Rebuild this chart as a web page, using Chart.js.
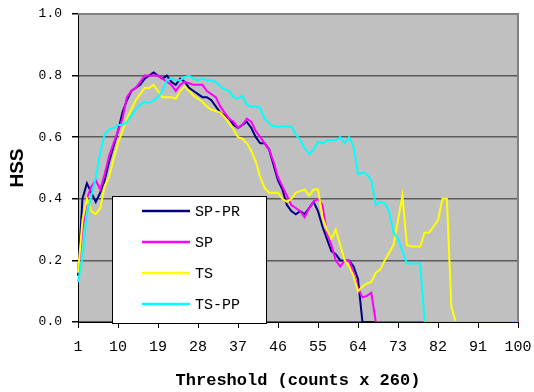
<!DOCTYPE html>
<html>
<head>
<meta charset="utf-8">
<script src="https://cdn.jsdelivr.net/npm/chart.js@4.4.1/dist/chart.umd.min.js"></script>
<style>
  html, body { margin: 0; padding: 0; background: #fff; }
</style>
</head>
<body>
<canvas id="hssChart" width="534" height="392"></canvas>
<script>
// categories and ticks
const thresholds = Array.from({ length: 100 }, (_, i) => i + 1);
const xTickLabels = [1, 10, 19, 28, 37, 46, 55, 64, 73, 82, 91, 100];
const yTickLabels = ['0.0', '0.2', '0.4', '0.6', '0.8', '1.0'];
const seriesNames = ['SP-PR', 'SP', 'TS', 'TS-PP'];
const seriesColors = ['#000080', '#ff00ff', '#ffff00', '#00ffff'];

// HSS values, one per threshold
const spPr = [
  0.15, 0.40, 0.45, 0.42, 0.39, 0.42, 0.46, 0.52, 0.57, 0.62,
  0.68, 0.72, 0.75, 0.76, 0.77, 0.79, 0.80, 0.81, 0.80, 0.79,
  0.80, 0.78, 0.77, 0.79, 0.78, 0.76, 0.75, 0.74, 0.73, 0.73,
  0.72, 0.70, 0.68, 0.67, 0.66, 0.64, 0.63, 0.64, 0.65, 0.63,
  0.60, 0.58, 0.58, 0.56, 0.51, 0.46, 0.43, 0.38, 0.36, 0.35,
  0.36, 0.35, 0.37, 0.39, 0.36, 0.31, 0.27, 0.23, 0.22, 0.20,
  0.20, 0.20, 0.18, 0.14, 0, 0, 0, 0, 0, 0,
  0, 0, 0, 0, 0, 0, 0, 0, 0, 0,
  0, 0, 0, 0, 0, 0, 0, 0, 0, 0,
  0, 0, 0, 0, 0, 0, 0, 0, 0, 0
];
const sp = [
  0.16, 0.30, 0.40, 0.44, 0.46, 0.43, 0.48, 0.54, 0.58, 0.62,
  0.66, 0.73, 0.75, 0.76, 0.78, 0.80, 0.80, 0.80, 0.80, 0.79,
  0.78, 0.77, 0.75, 0.77, 0.78, 0.775, 0.77, 0.77, 0.77, 0.75,
  0.74, 0.73, 0.70, 0.68, 0.66, 0.65, 0.63, 0.64, 0.66, 0.65,
  0.62, 0.60, 0.58, 0.56, 0.52, 0.47, 0.44, 0.41, 0.38, 0.37,
  0.36, 0.34, 0.37, 0.39, 0.40, 0.38, 0.29, 0.25, 0.20, 0.18,
  0.20, 0.20, 0.16, 0.11, 0.08, 0.085, 0.095, 0, 0, 0,
  0, 0, 0, 0, 0, 0, 0, 0, 0, 0,
  0, 0, 0, 0, 0, 0, 0, 0, 0, 0,
  0, 0, 0, 0, 0, 0, 0, 0, 0, 0
];
const ts = [
  0.16, 0.33, 0.40, 0.36, 0.35, 0.37, 0.44, 0.47, 0.53, 0.58,
  0.62, 0.66, 0.69, 0.72, 0.74, 0.76, 0.76, 0.77, 0.75, 0.73,
  0.73, 0.73, 0.725, 0.75, 0.765, 0.75, 0.735, 0.725, 0.715, 0.70,
  0.69, 0.685, 0.68, 0.665, 0.645, 0.625, 0.60, 0.595, 0.58, 0.555,
  0.52, 0.47, 0.435, 0.42, 0.42, 0.42, 0.40, 0.39, 0.40, 0.42,
  0.425, 0.43, 0.41, 0.43, 0.43, 0.34, 0.30, 0.27, 0.30, 0.25,
  0.20, 0.18, 0.15, 0.10, 0.115, 0.125, 0.13, 0.16, 0.17, 0.20,
  0.225, 0.25, 0.33, 0.41, 0.25, 0.245, 0.245, 0.245, 0.29, 0.29,
  0.31, 0.33, 0.40, 0.40, 0.05, 0, 0, 0, 0, 0,
  0, 0, 0, 0, 0, 0, 0, 0, 0, 0
];
const tsPp = [
  0.13, 0.21, 0.35, 0.41, 0.47, 0.55, 0.61, 0.625, 0.63, 0.64,
  0.64, 0.65, 0.67, 0.69, 0.705, 0.715, 0.71, 0.72, 0.73, 0.75,
  0.785, 0.79, 0.785, 0.785, 0.795, 0.80, 0.79, 0.785, 0.79, 0.785,
  0.785, 0.78, 0.765, 0.755, 0.75, 0.73, 0.725, 0.735, 0.705, 0.70,
  0.70, 0.695, 0.66, 0.645, 0.635, 0.635, 0.635, 0.635, 0.635, 0.61,
  0.59, 0.565, 0.545, 0.56, 0.585, 0.58, 0.59, 0.59, 0.59, 0.60,
  0.58, 0.60, 0.57, 0.48, 0.485, 0.48, 0.46, 0.38, 0.39, 0.385,
  0.36, 0.29, 0.27, 0.23, 0.19, 0.19, 0.19, 0.19, 0, 0,
  0, 0, 0, 0, 0, 0, 0, 0, 0, 0,
  0, 0, 0, 0, 0, 0, 0, 0, 0, 0
];
const seriesValues = [spPr, sp, ts, tsPp];

// gray plot background + gray frame on top/right
const plotFrame = {
  id: 'plotFrame',
  beforeDraw(chart) {
    const { ctx, chartArea: a } = chart;
    ctx.save();
    ctx.fillStyle = '#c0c0c0';
    ctx.fillRect(a.left, a.top, a.right - a.left, a.bottom - a.top);
    ctx.restore();
  },
  beforeDatasetsDraw(chart) {
    const { ctx, chartArea: a } = chart;
    ctx.save();
    ctx.strokeStyle = '#808080';
    ctx.lineWidth = 2;
    ctx.beginPath();
    ctx.moveTo(a.left, a.top);
    ctx.lineTo(a.right, a.top);
    ctx.lineTo(a.right, a.bottom);
    ctx.stroke();
    ctx.restore();
  }
};

// legend box sitting inside the plot, lower left
const insideLegend = {
  id: 'insideLegend',
  afterDraw(chart) {
    const { ctx, chartArea: a } = chart;
    const x0 = a.left + 34, y0 = a.top + 182, w = 154, h = 127;
    ctx.save();
    ctx.fillStyle = '#fff';
    ctx.fillRect(x0, y0, w, h);
    ctx.strokeStyle = '#000';
    ctx.lineWidth = 1;
    ctx.strokeRect(x0 + 0.5, y0 + 0.5, w, h);
    ctx.font = '15px "Liberation Mono"';
    ctx.textBaseline = 'middle';
    chart.data.datasets.forEach((ds, i) => {
      const y = y0 + 15 + i * 31;
      ctx.strokeStyle = ds.borderColor;
      ctx.lineWidth = 2.5;
      ctx.beginPath();
      ctx.moveTo(x0 + 30, y);
      ctx.lineTo(x0 + 78, y);
      ctx.stroke();
      ctx.fillStyle = '#000';
      ctx.fillText(ds.label, x0 + 83, y + 1);
    });
    ctx.restore();
  }
};

const ctx = document.getElementById('hssChart').getContext('2d');

new Chart(ctx, {
  type: 'line',
  data: {
    labels: thresholds,
    datasets: seriesNames.map((name, i) => ({
      label: name,
      data: seriesValues[i],
      borderColor: seriesColors[i],
      backgroundColor: seriesColors[i],
      borderWidth: 2,
      pointRadius: 0,
      tension: 0,
      fill: false,
      order: seriesNames.length - i
    }))
  },
  options: {
    responsive: false,
    animation: false,
    devicePixelRatio: 1,
    layout: { padding: { left: 0, top: 14, right: 16, bottom: 0 } },
    plugins: {
      legend: { display: false },
      tooltip: { enabled: false }
    },
    scales: {
      x: {
        type: 'category',
        offset: false,
        afterFit: (scale) => {
          scale.height = 70;
          scale.paddingLeft = 0;
          scale.paddingRight = 0;
        },
        grid: {
          drawOnChartArea: false,
          drawTicks: true,
          tickLength: 6,
          tickColor: '#000'
        },
        border: { color: '#000', width: 1 },
        ticks: {
          autoSkip: false,
          maxRotation: 0,
          padding: 10,
          color: '#000',
          font: { family: '"Liberation Mono", monospace', size: 15 },
          callback: (value, index) => xTickLabels.includes(thresholds[index]) ? String(thresholds[index]) : null
        },
        title: {
          display: true,
          text: 'Threshold (counts x 260)',
          color: '#000',
          font: { family: '"Liberation Mono", monospace', size: 17, weight: 'bold', lineHeight: 1 },
          padding: { top: 0, bottom: 3 }
        }
      },
      y: {
        min: 0,
        max: 1,
        afterFit: (scale) => {
          scale.width = 78;
          scale.paddingTop = 0;
          scale.paddingBottom = 0;
        },
        grid: {
          color: (c) => c.tick && c.tick.value >= 1 ? '#808080' : '#5a5a5a',
          lineWidth: 1.5,
          tickLength: 6,
          tickColor: '#000'
        },
        border: { color: '#000', width: 1 },
        ticks: {
          stepSize: 0.2,
          padding: 10,
          color: '#000',
          font: { family: '"Liberation Mono", monospace', size: 13 },
          callback: (value) => yTickLabels[Math.round(value / 0.2)]
        },
        title: {
          display: true,
          text: 'HSS',
          color: '#000',
          font: { family: '"Liberation Sans", Arial, sans-serif', size: 19, weight: 'bold', lineHeight: 1 },
          padding: { top: 8, bottom: 0 }
        }
      }
    }
  },
  plugins: [plotFrame, insideLegend]
});
</script>
</body>
</html>
